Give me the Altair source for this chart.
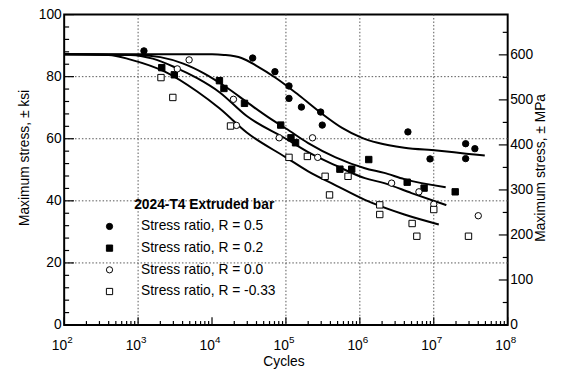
import altair as alt
import pandas as pd

# ---------------- data ----------------
series_names = ["Stress ratio, R = 0.5", "Stress ratio, R = 0.2",
                "Stress ratio, R = 0.0", "Stress ratio, R = -0.33"]
legend_title = "2024-T4 Extruded bar"

r05_cycles = [1.2e3, 3.55e4, 7.1e4, 1.1e5, 1.1e5, 1.62e5, 2.95e5, 3.1e5, 4.47e6, 8.9e6, 2.7e7, 3.6e7, 2.7e7]
r05_ksi = [88.3, 86.0, 81.6, 77.0, 73.0, 70.2, 68.6, 64.4, 62.2, 53.5, 58.4, 56.8, 53.6]

r02_cycles = [2.09e3, 3.09e3, 1.26e4, 1.45e4, 2.75e4, 8.5e4, 1.17e5, 1.35e5, 5.37e5, 7.76e5, 1.32e6, 4.37e6, 7.4e6, 1.95e7]
r02_ksi = [82.9, 80.6, 78.7, 76.2, 71.4, 64.4, 60.3, 58.7, 50.2, 50.2, 53.3, 46.0, 44.1, 42.9]

r00_cycles = [3.39e3, 4.9e3, 1.95e4, 2.14e4, 8.1e4, 2.29e5, 2.69e5, 2.69e6, 6.3e6, 1.0e7, 4.0e7]
r00_ksi = [82.5, 85.4, 72.7, 64.3, 60.3, 60.3, 54.0, 45.7, 42.9, 38.9, 35.2]

rm033_cycles = [2.04e3, 2.95e3, 1.78e4, 1.1e5, 1.95e5, 3.39e5, 6.92e5, 3.89e5, 1.86e6, 1.86e6, 5.1e6, 5.9e6, 1.0e7, 2.95e7]
rm033_ksi = [79.7, 73.3, 64.1, 54.0, 54.3, 47.9, 47.9, 41.9, 38.7, 35.6, 32.7, 28.6, 37.2, 28.6]

# fitted S-N curves
c05_cycles = [1e2, 1.0e4, 1.45e4, 2.5e4, 4.0e4, 7.4e4, 1.5e5, 3.1e5, 5.75e5, 1.07e6, 1.74e6, 4.0e6, 1.1e7, 2.75e7, 4.9e7]
c05_ksi = [87.2, 87.2, 87.0, 86.0, 83.5, 79.5, 74.0, 68.0, 63.5, 60.3, 58.7, 57.1, 56.2, 55.2, 54.6]

c02_cycles = [1e2, 1.0e3, 2.0e3, 4.0e3, 7.9e3, 1.58e4, 3.16e4, 6.3e4, 1.0e5, 2.0e5, 4.7e5, 1.17e6, 2.14e6, 4.0e6, 1.45e7]
c02_ksi = [87.2, 87.0, 86.3, 84.3, 81.0, 76.5, 71.3, 66.3, 63.3, 58.6, 54.0, 50.5, 49.0, 47.0, 44.4]

c00_cycles = [1e2, 7.9e2, 1.58e3, 3.16e3, 6.3e3, 1.26e4, 2.95e4, 1.0e5, 2.0e5, 4.7e5, 1.17e6, 2.14e6, 5.0e6, 1.48e7]
c00_ksi = [87.2, 87.0, 85.8, 83.0, 79.5, 75.0, 67.3, 60.0, 55.7, 51.4, 47.3, 45.7, 42.5, 38.6]

cm033_cycles = [1e2, 4.0e2, 7.9e2, 2.3e3, 6.3e3, 1.26e4, 2.95e4, 1.0e5, 2.0e5, 4.7e5, 1.17e6, 4.0e6, 1.17e7]
cm033_ksi = [87.2, 87.0, 85.5, 81.6, 75.2, 69.8, 62.0, 54.0, 49.5, 45.0, 40.3, 35.6, 32.4]

# axes
x_tick_values = [1e2, 1e3, 1e4, 1e5, 1e6, 1e7, 1e8]
x_tick_base = ["10", "10", "10", "10", "10", "10", "10"]
x_tick_exponents = ["2", "3", "4", "5", "6", "7", "8"]
x_title = "Cycles"
x_minor_values = [k * 10 ** d for d in range(2, 8) for k in range(2, 10)]
x_grid_values = [1e3, 1e5, 1e6, 1e7]
ksi_tick_values = [0, 20, 40, 60, 80, 100]
ksi_minor_values = [v for v in range(0, 101, 4) if v % 20 != 0]
ksi_grid_values = [20, 40, 60, 80]
mpa_tick_values = [0, 100, 200, 300, 400, 500, 600]
mpa_minor_values = [50, 150, 250, 350, 450, 550, 650]
KSI_TO_MPA = 6.894757

# ---------------- tables ----------------
pts_rows = []
for name, xs_, ys_ in zip(series_names,
                          [r05_cycles, r02_cycles, r00_cycles, rm033_cycles],
                          [r05_ksi, r02_ksi, r00_ksi, rm033_ksi]):
    pts_rows += [{"N": a, "ksi": b, "series": name} for a, b in zip(xs_, ys_)]
points_df = pd.DataFrame(pts_rows)

crv_rows = []
for name, xs_, ys_ in zip(series_names,
                          [c05_cycles, c02_cycles, c00_cycles, cm033_cycles],
                          [c05_ksi, c02_ksi, c00_ksi, cm033_ksi]):
    crv_rows += [{"N": a, "ksi": b, "series": name} for a, b in zip(xs_, ys_)]
curves_df = pd.DataFrame(crv_rows)

xlab_df = pd.DataFrame({"N": x_tick_values, "base": x_tick_base, "exp": x_tick_exponents})

# ---------------- chart ----------------
W, H = 450, 315
FONT = "Liberation Sans"
xsc = alt.Scale(type="log", domain=[1e2, 1e8])
ysc = alt.Scale(domain=[0, 100])
msc = alt.Scale(domain=[0, 100 * KSI_TO_MPA])

grid_style = dict(color="#555", strokeWidth=1, strokeDash=[1.5, 2])
hgrid = alt.Chart(pd.DataFrame({"ksi": ksi_grid_values})).mark_rule(**grid_style).encode(
    y=alt.Y("ksi:Q", scale=ysc, axis=None))
vgrid = alt.Chart(pd.DataFrame({"N": x_grid_values})).mark_rule(**grid_style).encode(
    x=alt.X("N:Q", scale=xsc, axis=None))

curves = alt.Chart(curves_df).mark_line(color="black", strokeWidth=2, interpolate="monotone").encode(
    x=alt.X("N:Q", scale=xsc, axis=None),
    y=alt.Y("ksi:Q", scale=ysc, axis=None),
    detail="series:N",
)

leg = alt.Legend(orient="none", legendX=39, legendY=208, title=None,
                 labelFont=FONT, labelFontSize=14, labelColor="black",
                 symbolSize=40, symbolStrokeColor="black", symbolStrokeWidth=1,
                 labelOffset=25, rowPadding=8, padding=0)

y_axis = alt.Axis(values=ksi_tick_values, title="Maximum stress, ± ksi",
                  labelPadding=3, tickSize=0, ticks=False, domain=False, grid=False,
                  labelFont=FONT, labelFontSize=14, labelColor="black",
                  titleFont=FONT, titleFontSize=14, titleFontWeight="normal", titleColor="black",
                  titleAngle=270, titleX=-40, titleY=145, titleAlign="center", titleBaseline="middle")

points = alt.Chart(points_df).mark_point(size=42, strokeWidth=1, opacity=1, fillOpacity=1).encode(
    x=alt.X("N:Q", scale=xsc, axis=None),
    y=alt.Y("ksi:Q", scale=ysc, axis=y_axis),
    shape=alt.Shape("series:N", scale=alt.Scale(domain=series_names,
                    range=["circle", "square", "circle", "square"]), legend=leg),
    fill=alt.Fill("series:N", scale=alt.Scale(domain=series_names,
                  range=["black", "black", "white", "white"]), legend=leg),
    stroke=alt.Stroke("series:N", scale=alt.Scale(domain=series_names,
                      range=["black", "black", "black", "black"]), legend=leg),
)

tick_style = dict(color="black", strokeWidth=1.2)
lt_major = alt.Chart(pd.DataFrame({"ksi": ksi_tick_values})).mark_rule(**tick_style).encode(
    y=alt.Y("ksi:Q", scale=ysc, axis=None), x=alt.value(0), x2=alt.value(10))
lt_minor = alt.Chart(pd.DataFrame({"ksi": ksi_minor_values})).mark_rule(**tick_style).encode(
    y=alt.Y("ksi:Q", scale=ysc, axis=None), x=alt.value(0), x2=alt.value(5))
bt_major = alt.Chart(pd.DataFrame({"N": x_tick_values})).mark_rule(**tick_style).encode(
    x=alt.X("N:Q", scale=xsc, axis=None), y=alt.value(H), y2=alt.value(H - 8))
bt_minor = alt.Chart(pd.DataFrame({"N": x_minor_values})).mark_rule(**tick_style).encode(
    x=alt.X("N:Q", scale=xsc, axis=None), y=alt.value(H), y2=alt.value(H - 4))

# x tick labels: "10" with a superscript exponent
xlab_base = alt.Chart(xlab_df).mark_text(
    font=FONT, fontSize=14, align="right", baseline="alphabetic", color="black", dx=3
).encode(x=alt.X("N:Q", scale=xsc, axis=None), y=alt.value(H + 25), text="base:N")
xlab_exp = alt.Chart(xlab_df).mark_text(
    font=FONT, fontSize=10, align="left", baseline="alphabetic", color="black", dx=3
).encode(x=alt.X("N:Q", scale=xsc, axis=None), y=alt.value(H + 18), text="exp:N")
xtitle = alt.Chart(pd.DataFrame({"t": [x_title]})).mark_text(
    font=FONT, fontSize=14, align="center", baseline="alphabetic", color="black"
).encode(text="t:N", x=alt.value(W / 2 - 2), y=alt.value(H + 42))

title_txt = alt.Chart(pd.DataFrame({"t": [legend_title]})).mark_text(
    font=FONT, fontSize=14, fontWeight="bold", align="left", baseline="middle", color="black"
).encode(text="t:N", x=alt.value(71), y=alt.value(193))

r_axis = alt.Axis(orient="right", values=mpa_tick_values, title="Maximum stress, ± MPa",
                  labelPadding=2, tickSize=0, ticks=False, domain=False, grid=False,
                  labelFont=FONT, labelFontSize=14, labelColor="black",
                  titleFont=FONT, titleFontSize=14, titleFontWeight="normal", titleColor="black",
                  titleAngle=270, titleX=33, titleY=155, titleAlign="center", titleBaseline="middle")
rt_major = alt.Chart(pd.DataFrame({"mpa": mpa_tick_values})).mark_rule(**tick_style).encode(
    y=alt.Y("mpa:Q", scale=msc, axis=r_axis), x=alt.value(W), x2=alt.value(W - 9))
rt_minor = alt.Chart(pd.DataFrame({"mpa": mpa_minor_values})).mark_rule(**tick_style).encode(
    y=alt.Y("mpa:Q", scale=msc, axis=None), x=alt.value(W), x2=alt.value(W - 5))

chart = alt.layer(
    hgrid, vgrid, curves, points, lt_major, lt_minor, bt_major, bt_minor,
    xlab_base, xlab_exp, xtitle, title_txt,
    rt_major, rt_minor,
).resolve_scale(y="independent").properties(
    width=W, height=H,
    padding={"left": 57, "top": 4, "right": 47, "bottom": 44},
    autosize=alt.AutoSizeParams(type="none"),
    background="white",
).configure_view(stroke="black", strokeWidth=2, clip=False)

chart.save("out.html", embed_options={"renderer": "svg", "actions": False})
